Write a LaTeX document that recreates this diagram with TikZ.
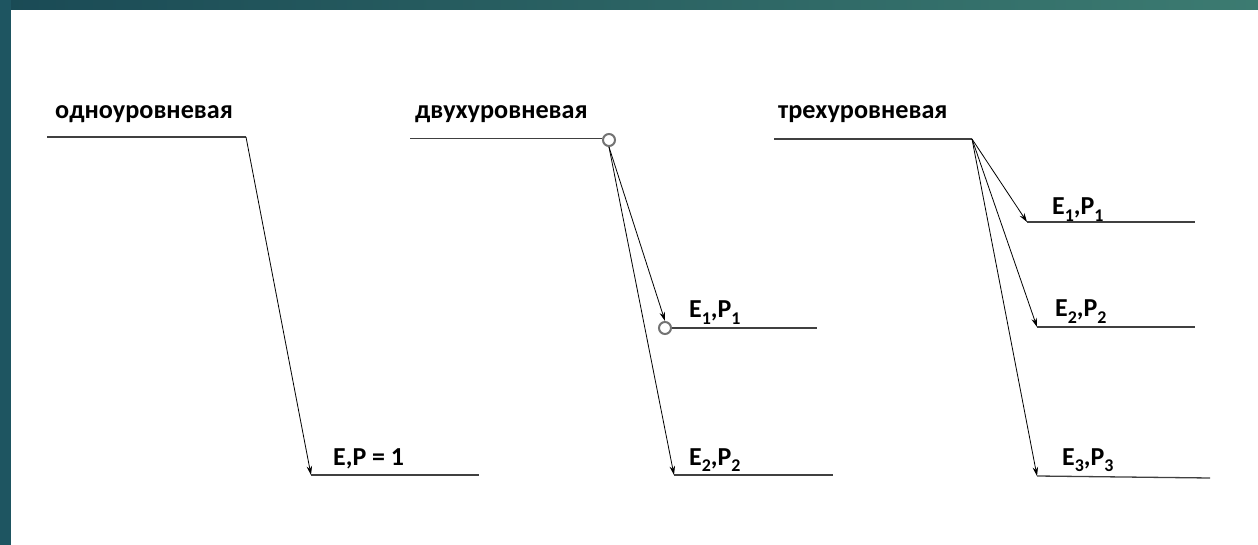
\documentclass[tikz,border=0pt]{standalone}
\usepackage{fontspec}
\setmainfont{Carlito}
\usetikzlibrary{arrows.meta}
\newcommand\lvsub[1]{\raisebox{-0.26em}{\fontsize{18}{18}\selectfont #1}}
\definecolor{barL}{HTML}{1A4A55}
\definecolor{barM}{HTML}{33706A}
\definecolor{barR}{HTML}{3C7B71}
\definecolor{barSide}{HTML}{1E5561}
\begin{document}
\begin{tikzpicture}[x=1bp,y=-1bp,
  level/.style={draw=black!75, line width=1.3bp},
  trans/.style={draw=black, line width=0.8bp, -{Stealth[length=9bp,width=5.5bp]}},
  title/.style={anchor=base west, inner sep=0, font=\fontsize{26.3}{26.3}\selectfont\bfseries},
  lab/.style={anchor=base west, inner sep=0, font=\fontsize{26}{26}\selectfont\bfseries},
  ring/.style={circle, draw=black!55, line width=2bp, fill=white, minimum size=12bp, inner sep=0}]
\useasboundingbox (0,0) rectangle (1258,545);
\fill[white] (0,0) rectangle (1258,545);
\shade[left color=barL, middle color=barM, right color=barR] (0,0) rectangle (1258,10);
\fill[barSide] (0,0) rectangle (11,545);

% одноуровневая
\node[title] (t1) at (55,119) {одноуровневая};
\coordinate (a0) at (47,137);
\coordinate (a1) at (246,137);
\coordinate (a2) at (311,475);
\coordinate (a3) at (479,475);
\draw[level] (a0) -- (a1);
\draw[level] (a2) -- (a3);
\draw[trans] (a1) -- (a2);
\node[lab] (l1) at (333,465) {E,P = 1};

% двухуровневая
\node[title] (t2) at (415,119) {двухуровневая};
\coordinate (b0) at (410,138.5);
\node[ring] (r1) at (609,140) {};
\node[ring] (r2) at (665,328) {};
\coordinate (b1e) at (817,328);
\coordinate (b2) at (674,475);
\coordinate (b2e) at (833,475);
\draw[level] (b0) -- (b0 -| r1.west);
\draw[level] (r2.east) -- (b1e);
\draw[level] (b2) -- (b2e);
\draw[trans] (r1.south) -- (r2.north);
\draw[trans] (r1.south) -- (b2);
\node[lab] (l21) at (689,318) {E\lvsub{1},P\lvsub{1}};
\node[lab] (l22) at (689,465) {E\lvsub{2},P\lvsub{2}};

% трехуровневая
\node[title] (t3) at (778,119) {трехуровневая};
\coordinate (c0) at (774,139);
\coordinate (c1) at (972,139);
\coordinate (d1) at (1027,222);
\coordinate (d1e) at (1195,222);
\coordinate (d2) at (1037,327);
\coordinate (d2e) at (1195,327);
\coordinate (d3) at (1037,476);
\coordinate (d3e) at (1210,478);
\draw[level] (c0) -- (c1);
\draw[level] (d1) -- (d1e);
\draw[level] (d2) -- (d2e);
\draw[level] (d3) -- (d3e);
\draw[trans] (c1) -- (d1);
\draw[trans] (c1) -- (d2);
\draw[trans] (c1) -- (d3);
\node[lab] (l31) at (1052,215) {E\lvsub{1},P\lvsub{1}};
\node[lab] (l32) at (1055,317) {E\lvsub{2},P\lvsub{2}};
\node[lab] (l33) at (1062,465) {E\lvsub{3},P\lvsub{3}};
\end{tikzpicture}
\end{document}
